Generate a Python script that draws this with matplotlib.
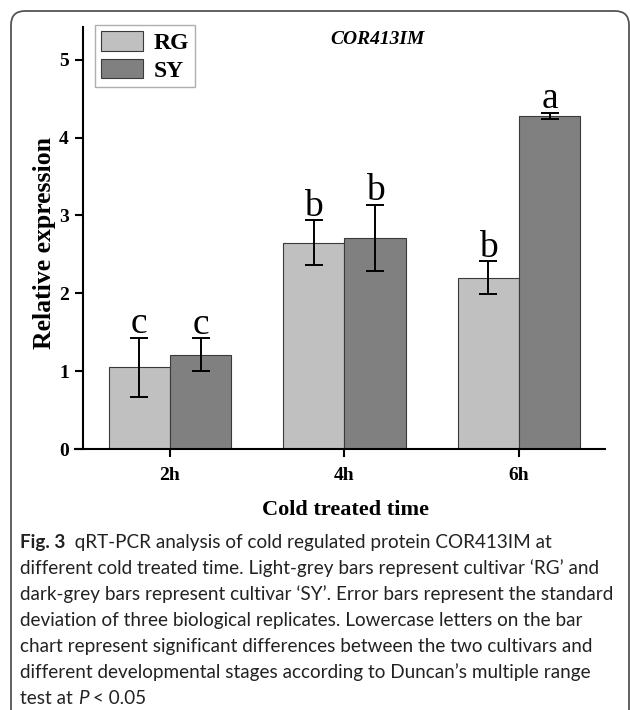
import numpy as np
import matplotlib
matplotlib.use('Agg')
import matplotlib.pyplot as plt
from matplotlib.patches import FancyBboxPatch, Patch
from matplotlib.transforms import IdentityTransform

W, H = 630, 710

categories = ['2h', '4h', '6h']
rg = [1.05, 2.65, 2.20]
rg_err = [0.38, 0.29, 0.21]
sy = [1.21, 2.71, 4.28]
sy_err = [0.21, 0.43, 0.04]
rg_letters = ['c', 'b', 'b']
sy_letters = ['c', 'b', 'a']
yticks = [0, 1, 2, 3, 4, 5]
series_names = ['RG', 'SY']

SERIF = 'Liberation Serif'
SANS = ['Lato', 'DejaVu Sans']

fig = plt.figure(figsize=(W / 100, H / 100), dpi=100)

ax = fig.add_axes([75 / W, 1 - 449 / H, 530 / W, 422 / H])
x = np.arange(len(categories))
w = 0.352
ekw = dict(elinewidth=1.4, capthick=1.4, ecolor='black')
ax.bar(x - w / 2, rg, w, yerr=rg_err, color='#c0c0c0', edgecolor='#3a3a3a',
       linewidth=0.8, capsize=6.5, error_kw=ekw)
ax.bar(x + w / 2, sy, w, yerr=sy_err, color='#808080', edgecolor='#3a3a3a',
       linewidth=0.8, capsize=6.5, error_kw=ekw)

for xi, v, e, l in zip(x - w / 2, rg, rg_err, rg_letters):
    ax.annotate(l, (xi, v + e), xytext=(0, 3), textcoords='offset points',
                ha='center', va='baseline', family=SERIF, fontsize=27)
for xi, v, e, l in zip(x + w / 2, sy, sy_err, sy_letters):
    ax.annotate(l, (xi, v + e), xytext=(0, 3), textcoords='offset points',
                ha='center', va='baseline', family=SERIF, fontsize=27)

ax.set_xlim(-0.544, 2.493)
ax.set_ylim(0, 5.42)
ax.spines['top'].set_visible(False)
ax.spines['right'].set_visible(False)
ax.spines['left'].set_position(('data', -0.5))
for s in ['left', 'bottom']:
    ax.spines[s].set_linewidth(1.5)
ax.set_xticks(x)
ax.set_xticklabels(categories)
ax.set_yticks(yticks)
ax.tick_params(axis='both', direction='out', length=6, width=1.5, labelsize=14, pad=4)
for t in ax.get_xticklabels() + ax.get_yticklabels():
    t.set_family(SERIF)
    t.set_fontweight('bold')
ax.tick_params(axis='x', pad=7)

handles = [Patch(facecolor='#c0c0c0', edgecolor='#3a3a3a', linewidth=0.8),
           Patch(facecolor='#808080', edgecolor='#3a3a3a', linewidth=0.8)]
leg = ax.legend(handles, series_names, loc='upper left',
                bbox_to_anchor=(95 / W, 1 - 25 / H), bbox_transform=fig.transFigure,
                prop=dict(family=SERIF, weight='bold', size=17), frameon=True,
                fancybox=False, edgecolor='#9a9a9a', borderpad=0.25,
                handlelength=1.8, handleheight=0.9, handletextpad=0.45,
                labelspacing=0.2, borderaxespad=0)
leg.get_frame().set_linewidth(1.0)

fig.text(378 / W, 1 - 40 / H, 'COR413IM', ha='center', va='center', family=SERIF,
         weight='bold', style='italic', fontsize=14)
fig.text(45 / W, 1 - 243 / H, 'Relative expression', rotation=90, ha='center',
         va='center', family=SERIF, weight='bold', fontsize=18.5)
fig.text(345 / W, 1 - 510 / H, 'Cold treated time', ha='center', va='center',
         family=SERIF, weight='bold', fontsize=16)

# border
border = FancyBboxPatch((11, -20), 618, H - 11 + 20,
                        boxstyle='round,pad=0,rounding_size=14',
                        transform=IdentityTransform(), fill=False,
                        edgecolor='#555555', linewidth=1.3)
fig.add_artist(border)

# caption
cap_lines = [
    [('Fig. 3', 'bold', 'normal'), ('  qRT-PCR analysis of cold regulated protein COR413IM at', 'normal', 'normal')],
    [('different cold treated time. Light-grey bars represent cultivar \u2018RG\u2019 and', 'normal', 'normal')],
    [('dark-grey bars represent cultivar \u2018SY\u2019. Error bars represent the standard', 'normal', 'normal')],
    [('deviation of three biological replicates. Lowercase letters on the bar', 'normal', 'normal')],
    [('chart represent significant differences between the two cultivars and', 'normal', 'normal')],
    [('different developmental stages according to Duncan\u2019s multiple range', 'normal', 'normal')],
    [('test at ', 'normal', 'normal'), ('P', 'normal', 'italic'), (' < 0.05', 'normal', 'normal')],
]

renderer = fig.canvas.get_renderer()
probe = fig.text(0, 0, cap_lines[2][0][0], family=SANS, fontsize=14)
pw = probe.get_window_extent(renderer).width
probe.remove()
cap_fs = 14 * 592 / pw

x0 = 20
for i, segs in enumerate(cap_lines):
    yb = H - (548 + 26 * i)
    cx = x0
    for txt, wt, st in segs:
        t = fig.text(cx / W, yb / H, txt, family=SANS, fontsize=cap_fs, weight=wt,
                     style=st, ha='left', va='baseline', color='#222222')
        cx += t.get_window_extent(renderer).width

fig.savefig('out.png', dpi=100)
